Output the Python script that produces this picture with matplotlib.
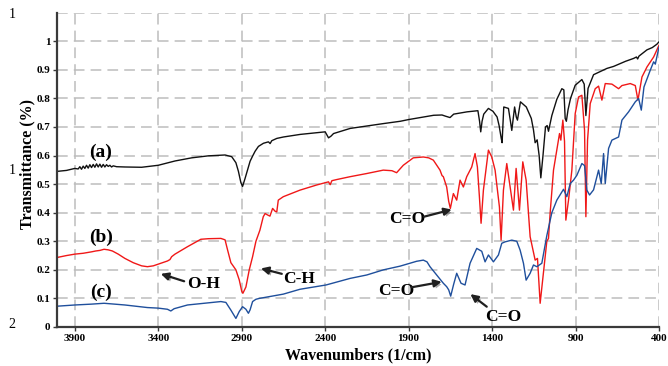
import matplotlib
matplotlib.use("Agg")
import matplotlib.pyplot as plt
import matplotlib.patheffects as pe

# spectrum (a) - black
wn_a = [4000, 3950, 3900, 3880, 3870, 3860, 3850, 3840, 3830, 3820,
        3810, 3800, 3790, 3780, 3770, 3760, 3750, 3740, 3730, 3720,
        3710, 3700, 3690, 3680, 3670, 3650, 3600, 3500, 3400, 3300,
        3200, 3100, 3000, 2960, 2935, 2920, 2905, 2895, 2880, 2865,
        2850, 2835, 2820, 2800, 2770, 2740, 2730, 2720, 2690, 2650,
        2550, 2400, 2380, 2365, 2350, 2250, 2050, 1950, 1900, 1750,
        1700, 1680, 1652, 1630, 1550, 1485, 1475, 1468, 1460, 1450,
        1422, 1395, 1370, 1358, 1345, 1340, 1330, 1302, 1290, 1282,
        1265, 1255, 1248, 1230, 1195, 1165, 1152, 1142, 1130, 1118,
        1108, 1095, 1080, 1070, 1062, 1042, 1012, 982, 970, 962,
        955, 945, 930, 902, 862, 848, 838, 825, 792, 712,
        672, 600, 552, 535, 528, 520, 472, 440, 412, 400]
tr_a = [0.545, 0.548, 0.555, 0.553, 0.561, 0.552, 0.563, 0.555, 0.566, 0.556,
        0.568, 0.558, 0.569, 0.559, 0.571, 0.560, 0.570, 0.559, 0.569, 0.560,
        0.568, 0.562, 0.566, 0.560, 0.564, 0.561, 0.560, 0.559, 0.566, 0.581,
        0.592, 0.599, 0.602, 0.596, 0.575, 0.545, 0.505, 0.492, 0.520, 0.550,
        0.580, 0.598, 0.615, 0.632, 0.643, 0.648, 0.642, 0.652, 0.660, 0.665,
        0.674, 0.683, 0.662, 0.668, 0.677, 0.695, 0.712, 0.720, 0.726, 0.741,
        0.742, 0.738, 0.733, 0.745, 0.753, 0.757, 0.720, 0.683, 0.720, 0.745,
        0.765, 0.755, 0.735, 0.705, 0.660, 0.645, 0.770, 0.765, 0.720, 0.688,
        0.770, 0.735, 0.724, 0.788, 0.770, 0.730, 0.690, 0.645, 0.655, 0.600,
        0.522, 0.600, 0.700, 0.705, 0.685, 0.740, 0.797, 0.834, 0.830, 0.730,
        0.720, 0.760, 0.800, 0.846, 0.866, 0.850, 0.740, 0.835, 0.883, 0.905,
        0.912, 0.930, 0.940, 0.945, 0.938, 0.948, 0.970, 0.978, 0.990, 0.998]

# spectrum (b) - red
wn_b = [4000, 3950, 3900, 3850, 3800, 3775, 3750, 3725, 3700, 3675,
        3640, 3600, 3550, 3500, 3465, 3430, 3400, 3345, 3330, 3320,
        3300, 3225, 3145, 3100, 3025, 3000, 2985, 2965, 2935, 2915,
        2900, 2893, 2875, 2855, 2835, 2815, 2791, 2771, 2760, 2745,
        2731, 2715, 2700, 2690, 2681, 2651, 2551, 2451, 2380, 2370,
        2360, 2331, 2251, 2152, 2052, 2000, 1972, 1932, 1872, 1812,
        1780, 1752, 1712, 1700, 1692, 1680, 1672, 1660, 1650, 1632,
        1612, 1592, 1572, 1552, 1522, 1502, 1488, 1476, 1466, 1452,
        1422, 1402, 1382, 1356, 1346, 1332, 1312, 1292, 1272, 1256,
        1236, 1216, 1196, 1172, 1142, 1128, 1112, 1092, 1072, 1062,
        1052, 1032, 1012, 996, 988, 976, 966, 958, 942, 922,
        902, 882, 862, 846, 838, 828, 812, 782, 762, 742,
        722, 682, 642, 622, 572, 542, 526, 502, 472, 432,
        400]
tr_b = [0.244, 0.250, 0.255, 0.258, 0.263, 0.266, 0.268, 0.272, 0.270, 0.266,
        0.255, 0.240, 0.225, 0.214, 0.211, 0.214, 0.220, 0.231, 0.236, 0.246,
        0.255, 0.281, 0.307, 0.309, 0.310, 0.305, 0.270, 0.225, 0.200, 0.165,
        0.125, 0.118, 0.140, 0.200, 0.246, 0.300, 0.339, 0.386, 0.397, 0.392,
        0.388, 0.415, 0.405, 0.403, 0.444, 0.456, 0.479, 0.497, 0.508, 0.498,
        0.512, 0.516, 0.526, 0.537, 0.549, 0.547, 0.540, 0.566, 0.592, 0.595,
        0.592, 0.584, 0.549, 0.530, 0.526, 0.505, 0.490, 0.440, 0.415, 0.467,
        0.444, 0.514, 0.490, 0.526, 0.560, 0.607, 0.560, 0.456, 0.363, 0.479,
        0.619, 0.595, 0.549, 0.420, 0.304, 0.479, 0.572, 0.490, 0.409, 0.555,
        0.409, 0.578, 0.514, 0.316, 0.234, 0.240, 0.083, 0.190, 0.300, 0.310,
        0.400, 0.549, 0.619, 0.677, 0.654, 0.724, 0.650, 0.374, 0.444, 0.549,
        0.747, 0.805, 0.811, 0.689, 0.386, 0.654, 0.782, 0.834, 0.843, 0.794,
        0.852, 0.850, 0.834, 0.845, 0.852, 0.845, 0.794, 0.875, 0.910, 0.945,
        0.986]

# spectrum (c) - blue
wn_c = [4000, 3900, 3800, 3725, 3600, 3465, 3400, 3345, 3325, 3305,
        3225, 3125, 3025, 2995, 2965, 2935, 2915, 2895, 2875, 2860,
        2850, 2835, 2815, 2795, 2651, 2551, 2395, 2251, 2151, 2051,
        1951, 1852, 1812, 1790, 1772, 1732, 1692, 1672, 1660, 1648,
        1630, 1612, 1586, 1562, 1532, 1492, 1462, 1442, 1422, 1392,
        1362, 1342, 1322, 1282, 1252, 1232, 1212, 1196, 1172, 1152,
        1132, 1102, 1072, 1042, 1012, 972, 952, 932, 912, 892,
        862, 846, 832, 816, 792, 762, 746, 732, 722, 702,
        682, 642, 622, 582, 542, 522, 506, 490, 452, 432,
        422, 400]
tr_c = [0.073, 0.077, 0.080, 0.083, 0.077, 0.068, 0.066, 0.062, 0.056, 0.064,
        0.077, 0.083, 0.089, 0.086, 0.059, 0.030, 0.054, 0.071, 0.062, 0.048,
        0.060, 0.089, 0.097, 0.100, 0.115, 0.132, 0.147, 0.170, 0.182, 0.200,
        0.213, 0.230, 0.234, 0.228, 0.211, 0.182, 0.153, 0.141, 0.130, 0.108,
        0.150, 0.188, 0.153, 0.147, 0.223, 0.275, 0.265, 0.228, 0.252, 0.228,
        0.252, 0.293, 0.298, 0.304, 0.300, 0.269, 0.223, 0.164, 0.188, 0.217,
        0.211, 0.223, 0.320, 0.400, 0.444, 0.482, 0.456, 0.502, 0.514, 0.531,
        0.572, 0.565, 0.479, 0.462, 0.480, 0.549, 0.502, 0.607, 0.502, 0.625,
        0.654, 0.665, 0.724, 0.753, 0.788, 0.800, 0.759, 0.840, 0.899, 0.928,
        0.920, 0.980]

x_ticks = [3900, 3400, 2900, 2400, 1900, 1400, 900, 400]
y_ticks = [0, 0.1, 0.2, 0.3, 0.4, 0.5, 0.6, 0.7, 0.8, 0.9, 1]
y_tick_labels = ["0", "0.1", "0.2", "0.3", "0.4", "0.5", "0.6", "0.7", "0.8", "0.9", "1"]

serif = "Liberation Serif"

fig = plt.figure(figsize=(6.68, 3.66), dpi=100)
ax = fig.add_axes([0.0858, 0.1066, 0.9007, 0.8587])

ax.plot(wn_a, tr_a, color="#111111", lw=1.0)
ax.plot(wn_b, tr_b, color="#f01818", lw=1.0)
ax.plot(wn_c, tr_c, color="#1f4f9c", lw=1.0)

ax.set_xlim(4005, 400)
ax.set_ylim(0, 1.1)

# dashed grid, including the line along the top
ax.set_xticks(x_ticks)
ax.set_yticks(y_ticks)
ax.set_yticklabels(y_tick_labels)
for v in [0.1, 0.2, 0.3, 0.4, 0.5, 0.6, 0.7, 0.8, 0.9, 1.0, 1.1]:
    ax.axhline(v, color="#bdbdbd", lw=1.1, ls=(0, (7, 4)), zorder=0)
for v in x_ticks:
    ax.axvline(v, color="#bdbdbd", lw=1.1, ls=(0, (7, 4)), zorder=0)

for s in ["top", "right"]:
    ax.spines[s].set_visible(False)
for s in ["left", "bottom"]:
    ax.spines[s].set_color("#3a3a3a")
    ax.spines[s].set_linewidth(1.6)

ax.tick_params(axis="both", length=3, width=1, color="#3a3a3a", pad=2)
for lab in ax.get_xticklabels() + ax.get_yticklabels():
    lab.set_fontfamily(serif)
    lab.set_fontweight("bold")
    lab.set_fontsize(8)

ax.set_xlabel("Wavenumbers (1/cm)", fontfamily=serif, fontweight="bold", fontsize=11.5, labelpad=3)
ax.set_ylabel("Transmittance (%)", fontfamily=serif, fontweight="bold", fontsize=11.5, va="center")
ax.yaxis.set_label_coords(-0.05, 0.52)

# curve labels
lab_kw = dict(fontfamily=serif, fontweight="bold", fontsize=14, ha="center", va="center")
ax.text(3745, 0.612, "(a)", **lab_kw)
ax.text(3745, 0.315, "(b)", **lab_kw)
ax.text(3745, 0.122, "(c)", **lab_kw)

# band assignments with arrows
txt_kw = dict(fontfamily=serif, fontweight="bold", fontsize=12.5, ha="center", va="center")
arrow_kw = dict(arrowstyle="-|>", color="#202020", lw=1.6, mutation_scale=11,
                shrinkA=0, shrinkB=0,
                path_effects=[pe.withSimplePatchShadow(offset=(1.5, -1.5), alpha=0.35)])

notes = [
    ("O-H", (3131, 0.150), (3245, 0.160), (3385, 0.186)),
    ("C-H", (2555, 0.167), (2660, 0.186), (2785, 0.205)),
    ("C=O", (1908, 0.378), (1808, 0.386), (1642, 0.411)),
    ("C=O", (1976, 0.127), (1882, 0.139), (1702, 0.158)),
    ("C=O", (1332, 0.036), (1432, 0.071), (1530, 0.115)),
]
for label, pos, tail, tip in notes:
    ax.text(pos[0], pos[1], label, **txt_kw)
    ax.annotate("", xy=tip, xytext=tail, arrowprops=arrow_kw)

# stray margin characters in the original figure
for y, s in [(15, "1"), (170, "1"), (325, "2")]:
    fig.text(12 / 668, 1 - y / 366, s, fontfamily=serif, fontsize=10, ha="center", va="center")

fig.savefig("out.png", dpi=100)
